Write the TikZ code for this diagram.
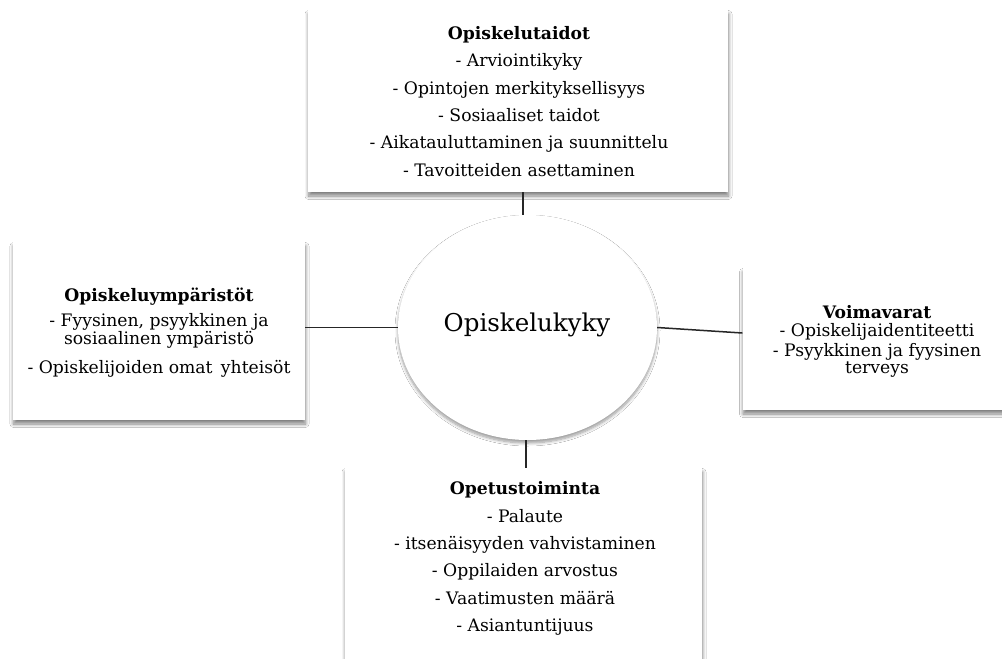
\documentclass[tikz,border=0pt]{standalone}
\usepackage{fontspec}
\setmainfont{DejaVu Serif}
\usetikzlibrary{shapes.geometric,shadows.blur,calc}
\tikzset{
  panel/.style={fill=white, draw=none, inner sep=0pt,
    blur shadow={shadow xshift=0.5pt, shadow yshift=-4pt, shadow blur radius=3.5pt, shadow blur steps=10, shadow opacity=50}},
  hub/.style={ellipse, fill=white, draw=none, inner sep=0pt,
    blur shadow={shadow xshift=0pt, shadow yshift=-3pt, shadow blur radius=3pt, shadow blur steps=8, shadow opacity=40}},
  body/.style={align=center, inner sep=0pt, text=black, font=\fontsize{17.2}{18}\selectfont},
  widebody/.style={align=center, inner sep=0pt, text=black, font=\fontsize{17.2}{27.3}\selectfont},
  link/.style={draw=black!85, line width=1.5pt},
}
\begin{document}
\begin{tikzpicture}[x=1pt,y=-1pt]
\fill[white] (0,0) rectangle (1002,659);
\useasboundingbox (0,0) rectangle (1002,659);

% boxes
\node[panel, minimum width=420pt, minimum height=182pt] (tbox) at (518,101) {};
\node[panel, minimum width=292pt, minimum height=178pt] (lbox) at (159,331) {};
\node[panel, minimum width=275pt, minimum height=142pt] (rbox) at (880,339) {};
\node[panel, minimum width=357pt, minimum height=200pt] (bbox) at (523.5,568) {};

% hub
\node[hub, minimum width=259pt, minimum height=225pt] (ell) at (527.5,327.5) {};
\node[font=\fontsize{24.5}{28}\selectfont, text=black] (hubtxt) at (527,325) {Opiskelukyky};

% texts
\node[widebody] (ttxt) at (519,101.5) {\textbf{Opiskelutaidot}\\
- Arviointikyky\\
- Opintojen merkityksellisyys\\
- Sosiaaliset taidot\\
- Aikatauluttaminen ja suunnittelu\\
- Tavoitteiden asettaminen};

\node[body] (ltxt) at (159,333) {\textbf{Opiskeluympäristöt}\\[7pt]
- Fyysinen, psyykkinen ja\\
sosiaalinen ympäristö\\[11pt]
- Opiskelijoiden omat\ \,yhteisöt};

\node[body] (rtxt) at (877,341) {\textbf{Voimavarat}\\
- Opiskelijaidentiteetti\\[2pt]
- Psyykkinen ja fyysinen\\[-1pt]
terveys};

\node[widebody] (btxt) at (525,558.5) {\textbf{Opetustoiminta}\\
- Palaute\\
- itsenäisyyden vahvistaminen\\
- Oppilaiden arvostus\\
- Vaatimusten määrä\\
- Asiantuntijuus};

% connectors
\draw[link] (tbox.south -| 523,0) -- (ell.north -| 523,0);
\draw[link] (lbox.east |- ell.west) -- (ell.west);
\draw[link] (ell.east) -- ($(rbox.west)+(0,-6)$);
\draw[link] (ell.south -| 526,0) -- (bbox.north -| 526,0);
\end{tikzpicture}
\end{document}
